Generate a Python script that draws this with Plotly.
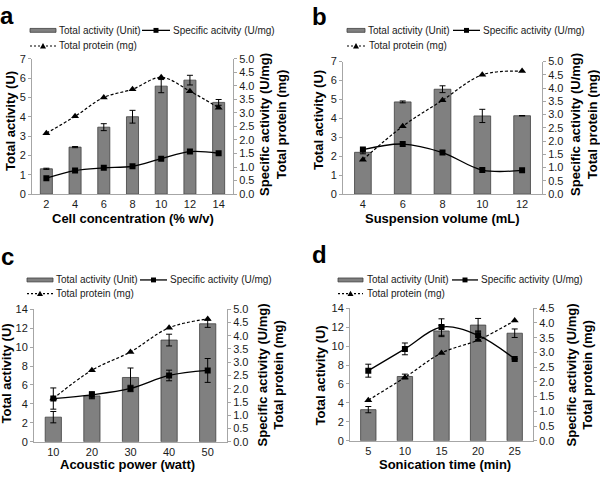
import plotly.graph_objects as go

W, H = 600, 478

# ---------------- data ----------------
# Panel a
a_cats = ["2", "4", "6", "8", "10", "12", "14"]
a_total_activity = [1.31, 2.43, 3.46, 4.00, 5.58, 5.89, 4.74]
a_total_activity_err = [0.03, 0.03, 0.18, 0.33, 0.34, 0.25, 0.15]
a_specific_activity = [0.59, 0.87, 0.97, 1.03, 1.31, 1.57, 1.51]
a_total_protein = [2.25, 2.87, 3.57, 3.87, 4.31, 3.80, 3.19]

# Panel b
b_cats = ["4", "6", "8", "10", "12"]
b_total_activity = [2.21, 4.87, 5.54, 4.13, 4.14]
b_total_activity_err = [0.08, 0.05, 0.18, 0.35, 0.01]
b_specific_activity = [1.68, 1.89, 1.57, 0.91, 0.90]
b_total_protein = [1.30, 2.56, 3.54, 4.50, 4.64]

# Panel c
c_cats = ["10", "20", "30", "40", "50"]
c_total_activity = [2.6, 4.84, 6.79, 10.74, 12.46]
c_total_activity_err = [0.6, 0.3, 1.0, 0.62, 0.38]
c_specific_activity = [1.63, 1.77, 2.01, 2.50, 2.69]
c_specific_activity_err = [0.40, 0.12, 0.12, 0.20, 0.45]
c_total_protein = [1.63, 2.70, 3.39, 4.30, 4.63]

# Panel d
d_cats = ["5", "10", "15", "20", "25"]
d_total_activity = [3.29, 6.79, 11.6, 12.22, 11.36]
d_total_activity_err = [0.33, 0.25, 0.6, 0.7, 0.45]
d_specific_activity = [2.38, 3.12, 3.86, 3.58, 2.78]
d_specific_activity_err = [0.22, 0.20, 0.28, 0.15, 0.0]
d_total_protein = [1.38, 2.15, 2.98, 3.42, 4.08]

legend_names_a = ["Total activity (Unit)", "Specific acitvity (U/mg)", "Total protein (mg)"]
legend_names = ["Total activity (Unit)", "Specific activity (U/mg)", "Total protein (mg)"]

FONT = "Liberation Sans, Arial, sans-serif"
BAR_FILL = "#808080"
BAR_LINE = "#404040"
AXIS_COL = "#a6a6a6"
TXT = "#1a1a1a"

fig = go.Figure()
shapes = []
annotations = []
layout = dict(
    width=W, height=H, margin=dict(l=0, r=0, t=0, b=0),
    paper_bgcolor="white", plot_bgcolor="white",
    font=dict(family=FONT, size=11, color=TXT),
    showlegend=False,
)


def px_x(p):
    return p / W


def px_y(p):
    return 1 - p / H


def text_ann(text, x, y, size, bold=False, xanchor="left", yanchor="middle", angle=0, color=TXT):
    f = dict(size=size, color=color, family=FONT)
    if bold:
        f["weight"] = "bold"
    annotations.append(dict(text=text, x=px_x(x), y=px_y(y), xref="paper", yref="paper",
                            xanchor=xanchor, yanchor=yanchor, textangle=angle,
                            showarrow=False, font=f, borderpad=0))


def legend_block(names, bar_sw, text1, line_sw, text2, prot_sw, text3, y1, y2):
    # bar swatch
    shapes.append(dict(type="rect", xref="paper", yref="paper",
                       x0=px_x(bar_sw[0]), x1=px_x(bar_sw[1]),
                       y0=px_y(y1 + 2), y1=px_y(y1 - 2),
                       fillcolor=BAR_FILL, line=dict(color=BAR_LINE, width=0.8)))
    text_ann(names[0], text1, y1, 10)
    # specific activity swatch
    shapes.append(dict(type="line", xref="paper", yref="paper",
                       x0=px_x(line_sw[0]), x1=px_x(line_sw[1]), y0=px_y(y1), y1=px_y(y1),
                       line=dict(color="black", width=1.3)))
    cx = (line_sw[0] + line_sw[1]) / 2
    shapes.append(dict(type="rect", xref="paper", yref="paper",
                       x0=px_x(cx - 2.5), x1=px_x(cx + 2.5), y0=px_y(y1 + 2.5), y1=px_y(y1 - 2.5),
                       fillcolor="black", line=dict(width=0)))
    text_ann(names[1], text2, y1, 10)
    # total protein swatch
    shapes.append(dict(type="line", xref="paper", yref="paper",
                       x0=px_x(prot_sw[0]), x1=px_x(prot_sw[1]), y0=px_y(y2), y1=px_y(y2),
                       line=dict(color="black", width=1.1, dash="2px,2px")))
    cx = (prot_sw[0] + prot_sw[1]) / 2
    shapes.append(dict(type="path", xref="paper", yref="paper",
                       path="M {} {} L {} {} L {} {} Z".format(
                           px_x(cx - 3), px_y(y2 + 2.5), px_x(cx + 3), px_y(y2 + 2.5),
                           px_x(cx), px_y(y2 - 3)),
                       fillcolor="black", line=dict(width=0)))
    text_ann(names[2], text3, y2, 10)


panels = [
    dict(key="a", cats=a_cats, ta=a_total_activity, ta_err=a_total_activity_err,
         sa=a_specific_activity, sa_err=None, tp=a_total_protein,
         names=legend_names_a, xdom=(32, 233), ydom=(54, 193), lrange=7, ldtick=1,
         rrange=5.0, xtitle="Cell concentration (% w/v)",
         label=(-1, 25), ltitle=(10, 118), rtitle=(273, 122), xt=(133, 218),
         leg=dict(bar_sw=(30, 56), text1=58, line_sw=(142, 170), text2=172,
                  prot_sw=(30, 56), text3=58, y1=25, y2=41)),
    dict(key="b", cats=b_cats, ta=b_total_activity, ta_err=b_total_activity_err,
         sa=b_specific_activity, sa_err=None, tp=b_total_protein,
         names=legend_names, xdom=(343, 542), ydom=(57, 193), lrange=7, ldtick=1,
         rrange=5.0, xtitle="Suspension volume (mL)",
         label=(311, 26), ltitle=(318, 117), rtitle=(584, 122), xt=(442, 218),
         leg=dict(bar_sw=(347, 365), text1=367, line_sw=(453, 480), text2=482,
                  prot_sw=(347, 365), text3=368, y1=25, y2=41)),
    dict(key="c", cats=c_cats, ta=c_total_activity, ta_err=c_total_activity_err,
         sa=c_specific_activity, sa_err=c_specific_activity_err, tp=c_total_protein,
         names=legend_names, xdom=(34, 227), ydom=(311, 447), lrange=14, ldtick=2,
         rrange=5.0, xtitle="Acoustic power (watt)",
         label=(0, 272), ltitle=(7, 377), rtitle=(271, 379), xt=(127, 470),
         leg=dict(bar_sw=(27, 53), text1=55, line_sw=(140, 167), text2=169,
                  prot_sw=(27, 53), text3=55, y1=281, y2=295)),
    dict(key="d", cats=d_cats, ta=d_total_activity, ta_err=d_total_activity_err,
         sa=d_specific_activity, sa_err=d_specific_activity_err, tp=d_total_protein,
         names=legend_names, xdom=(350, 533), ydom=(310, 446), lrange=14, ldtick=2,
         rrange=4.5, xtitle="Sonication time (min)",
         label=(311, 270), ltitle=(320, 379), rtitle=(580, 379), xt=(445, 470),
         leg=dict(bar_sw=(338, 363), text1=366, line_sw=(452, 478), text2=480,
                  prot_sw=(338, 363), text3=366, y1=281, y2=295)),
]

for i, p in enumerate(panels):
    xi = "" if i == 0 else str(i + 1)
    yl = "" if i == 0 else str(2 * i + 1)
    yr = str(2 * i + 2)
    xref, ylref, yrref = "x" + xi, "y" + yl, "y" + yr
    n = len(p["cats"])

    # bars (left axis)
    fig.add_trace(go.Bar(
        x=p["cats"], y=p["ta"], xaxis=xref, yaxis=ylref, width=0.42,
        marker=dict(color=BAR_FILL, line=dict(color=BAR_LINE, width=0.8)),
        error_y=dict(type="data", array=p["ta_err"], color="black", thickness=1, width=3),
        name=p["names"][0],
    ))
    # specific activity (right axis)
    sa_err = dict(type="data", array=p["sa_err"], color="black", thickness=1, width=3) \
        if p["sa_err"] is not None else None
    fig.add_trace(go.Scatter(
        x=p["cats"], y=p["sa"], xaxis=xref, yaxis=yrref, mode="lines+markers",
        line=dict(color="black", width=1.3, shape="spline", smoothing=1),
        marker=dict(symbol="square", size=6, color="black"),
        error_y=sa_err, name=p["names"][1],
    ))
    # total protein (right axis)
    fig.add_trace(go.Scatter(
        x=p["cats"], y=p["tp"], xaxis=xref, yaxis=yrref, mode="lines+markers",
        line=dict(color="black", width=1.2, dash="3px,2px", shape="spline", smoothing=1),
        marker=dict(symbol="triangle-up", size=7, color="black"),
        name=p["names"][2],
    ))

    xd = [px_x(p["xdom"][0]), px_x(p["xdom"][1])]
    yd = [px_y(p["ydom"][1]), px_y(p["ydom"][0])]
    layout["xaxis" + xi] = dict(
        domain=xd, anchor=ylref, type="category", range=[-0.5, n - 0.5],
        showline=True, linecolor=AXIS_COL, linewidth=1, ticks="", showgrid=False,
        tickfont=dict(size=11, color=TXT), zeroline=False, fixedrange=True,
    )
    layout["yaxis" + yl] = dict(
        domain=yd, anchor=xref, range=[0, p["lrange"]], dtick=p["ldtick"], tick0=0,
        showline=True, linecolor=AXIS_COL, linewidth=1, ticks="outside", ticklen=3,
        tickcolor=AXIS_COL, showgrid=False, zeroline=False,
        tickfont=dict(size=11, color=TXT),
    )
    layout["yaxis" + yr] = dict(
        domain=yd, anchor=xref, overlaying=ylref, side="right",
        range=[0, p["rrange"]], dtick=0.5, tick0=0, tickformat=".1f",
        showline=True, linecolor=AXIS_COL, linewidth=1, ticks="outside", ticklen=3,
        tickcolor=AXIS_COL, showgrid=False, zeroline=False,
        tickfont=dict(size=11, color=TXT),
    )

    legend_block(p["names"], **p["leg"])

    text_ann(p["key"], p["label"][0], p["label"][1], 24, bold=True,
             xanchor="left", yanchor="bottom", color="black")
    text_ann("Total activity (U)", p["ltitle"][0], p["ltitle"][1], 13, bold=True,
             xanchor="center", yanchor="middle", angle=-90, color="black")
    text_ann("Specific activity (U/mg)<br>Total protein (mg)", p["rtitle"][0], p["rtitle"][1],
             13, bold=True, xanchor="center", yanchor="middle", angle=-90, color="black")
    text_ann(p["xtitle"], p["xt"][0], p["xt"][1], 13, bold=True,
             xanchor="center", yanchor="middle", color="black")

layout["shapes"] = shapes
layout["annotations"] = annotations
fig.update_layout(**layout)
fig.write_html("out.html", config={"displayModeBar": False, "staticPlot": False},
               post_script="document.body.style.margin='0';")
